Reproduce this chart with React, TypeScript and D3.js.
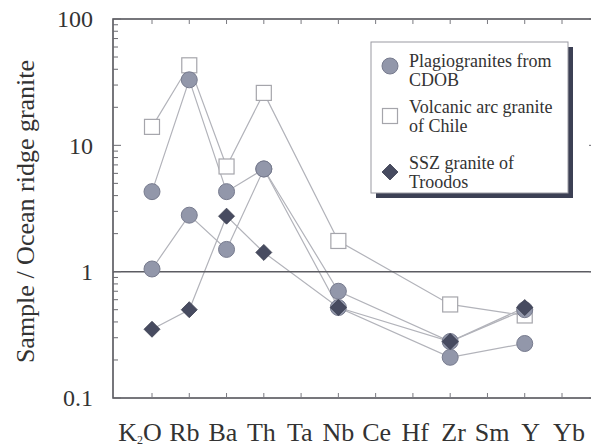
import React from "react";
import * as d3 from "d3";

// element order along the x axis
const categories = ["K2O", "Rb", "Ba", "Th", "Ta", "Nb", "Ce", "Hf", "Zr", "Sm", "Y", "Yb"];

// normalised values (null = not plotted)
const plagioA = [4.3, 33, 4.3, 6.5, null, 0.7, null, null, 0.28, null, 0.5, null];
const plagioB = [1.05, 2.8, 1.5, 6.5, null, 0.52, null, null, 0.21, null, 0.27, null];
const chile = [14, 43, 6.8, 26, null, 1.75, null, null, 0.55, null, 0.45, null];
const troodos = [0.35, 0.5, 2.75, 1.42, null, 0.52, null, null, 0.28, null, 0.52, null];

const yTicks = [0.1, 1, 10, 100];
const yTickLabels = ["0.1", "1", "10", "100"];

const legendItems = [
  { kind: "circle", lines: ["Plagiogranites from", "CDOB"] },
  { kind: "square", lines: ["Volcanic arc granite", "of Chile"] },
  { kind: "diamond", lines: ["SSZ granite of", "Troodos"] },
];

const W = 599;
const H = 448;
const left = 113;
const right = 597;
const top = 19;
const bottom = 398;

const CIRCLE_FILL = "#9297aa";
const CIRCLE_STROKE = "#777b8e";
const DIAMOND_FILL = "#474b60";
const LINE_COLOR = "#b2b3ba";

type Pt = { i: number; v: number };

const toPoints = (vals: (number | null)[]): Pt[] =>
  vals.map((v, i) => ({ i, v: v as number })).filter((d) => d.v != null);

const Marker = ({ kind, cx, cy }: { kind: string; cx: number; cy: number }) => {
  if (kind === "circle")
    return <circle cx={cx} cy={cy} r={8} fill={CIRCLE_FILL} stroke={CIRCLE_STROKE} strokeWidth={1} />;
  if (kind === "square")
    return <rect x={cx - 7.5} y={cy - 7.5} width={15} height={15} fill="#fff" stroke="#a5a5ab" strokeWidth={1.2} />;
  const s = 8;
  return (
    <path
      d={`M${cx},${cy - s}L${cx + s},${cy}L${cx},${cy + s}L${cx - s},${cy}Z`}
      fill={DIAMOND_FILL}
      stroke="#3a3d4e"
      strokeWidth={0.8}
    />
  );
};

const T = (props: any) => <text className="serif" fill="#333" {...props} />;

export default function App() {
  const x = d3.scalePoint<string>().domain(categories).range([left + 39, right - 35]);
  const xLabel = d3.scalePoint<string>().domain(categories).range([146, 569]);
  const y = d3.scaleLog().domain([0.1, 100]).range([bottom, top]);

  const line = d3
    .line<Pt>()
    .x((d) => x(categories[d.i]) as number)
    .y((d) => y(d.v));

  const series = [
    { pts: toPoints(chile), kind: "square" },
    { pts: toPoints(plagioA), kind: "circle" },
    { pts: toPoints(plagioB), kind: "circle" },
    { pts: toPoints(troodos), kind: "diamond" },
  ];

  const minorTicks = y.ticks();

  return (
    <svg width={W} height={H} fontFamily="Times New Roman" style={{ display: "block", margin: "-8px 0 0 -8px" }}>
      <style>{`.serif { font-family: "Times New Roman", "Liberation Serif", Tinos, serif; }`}</style>

      {/* connecting lines */}
      {series.map((s, k) => (
        <path key={k} d={line(s.pts) || ""} fill="none" stroke={LINE_COLOR} strokeWidth={1.2} />
      ))}

      {/* reference line at 1 */}
      <line x1={left} x2={right} y1={y(1)} y2={y(1)} stroke="#5c5c62" strokeWidth={1.5} />

      {/* markers */}
      {series.map((s, k) =>
        s.pts.map((d, j) => (
          <Marker key={`${k}-${j}`} kind={s.kind} cx={x(categories[d.i]) as number} cy={y(d.v)} />
        ))
      )}

      {/* frame */}
      <rect x={left} y={top} width={right - left} height={bottom - top} fill="none" stroke="#4a4a50" strokeWidth={1.5} />

      {/* y ticks, both sides, inward */}
      {minorTicks.map((t, k) => {
        const major = yTicks.includes(t);
        const len = major ? 8 : 5;
        return (
          <g key={k} stroke="#6a6a70" strokeWidth={1}>
            <line x1={left} x2={left + len} y1={y(t)} y2={y(t)} />
            <line x1={right} x2={right - len} y1={y(t)} y2={y(t)} />
          </g>
        );
      })}

      {/* x ticks, top and bottom, inward */}
      {categories.map((c) => (
        <g key={c} stroke="#7a7a80" strokeWidth={1}>
          <line x1={x(c)} x2={x(c)} y1={top} y2={top + 5} />
          <line x1={x(c)} x2={x(c)} y1={bottom} y2={bottom - 5} />
        </g>
      ))}

      {/* y tick labels */}
      {yTicks.map((t, k) => (
        <T key={t} x={93} y={y(t)} dy="0.35em" textAnchor="end" fontSize={24}>
          {yTickLabels[k]}
        </T>
      ))}

      {/* x category labels */}
      {categories.map((c) => (
        <T key={c} x={(xLabel(c) as number) - (c === "K2O" ? 6 : 0)} y={441} textAnchor="middle" fontSize={26}>
          {c === "K2O" ? (
            <>
              K<tspan fontSize={12} dy={3}>2</tspan>
              <tspan dy={-3}>O</tspan>
            </>
          ) : (
            c
          )}
        </T>
      ))}

      {/* y axis title */}
      <T transform={`translate(34,${(top + bottom) / 2 + 3}) rotate(-90)`} textAnchor="middle" fontSize={26}>
        Sample / Ocean ridge granite
      </T>

      {/* legend */}
      <g>
        <rect x={376} y={47} width={197} height={151} fill="#3c4054" />
        <rect x={371} y={42} width={197} height={151} fill="#fff" stroke="#9a9aa2" strokeWidth={1} />
        {legendItems.map((it, k) => {
          const base = [67, 113, 169][k];
          const my = [66, 116, 172][k];
          return (
            <g key={k}>
              <Marker kind={it.kind} cx={390} cy={my} />
              {it.lines.map((ln, j) => (
                <T key={j} x={409} y={base + j * 18.5} fontSize={18}>
                  {ln}
                </T>
              ))}
            </g>
          );
        })}
      </g>
    </svg>
  );
}
